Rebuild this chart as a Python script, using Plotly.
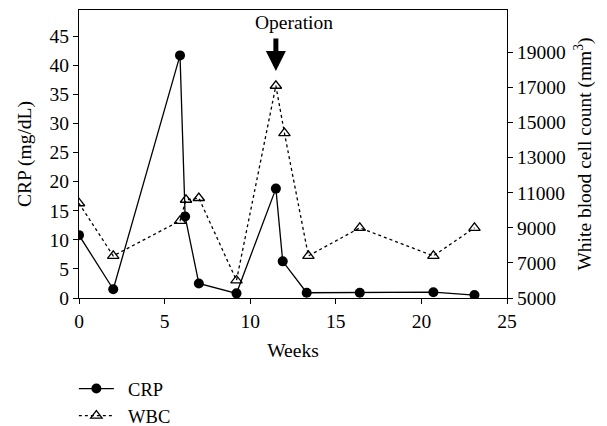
import plotly.graph_objects as go

weeks_crp = [0, 2, 5.9, 6.2, 7.0, 9.2, 11.5, 11.9, 13.3, 16.4, 20.7, 23.1]
crp = [10.8, 1.5, 41.7, 14.0, 2.5, 0.8, 18.8, 6.3, 0.9, 0.9, 1.0, 0.5]

weeks_wbc = [0, 2, 5.9, 6.25, 7.0, 9.2, 11.5, 12.0, 13.4, 16.4, 20.7, 23.1]
wbc = [10400, 7400, 9400, 10600, 10700, 6000, 17100, 14400, 7400, 9000, 7400, 9000]

x_ticks = [0, 5, 10, 15, 20, 25]
crp_ticks = [0, 5, 10, 15, 20, 25, 30, 35, 40, 45]
wbc_ticks = [5000, 7000, 9000, 11000, 13000, 15000, 17000, 19000]

FONT = "Liberation Serif"
NB = "\u00a0\u00a0"

fig = go.Figure()
fig.add_trace(go.Scatter(
    x=weeks_crp, y=crp, name=NB + "CRP", mode="lines+markers",
    line=dict(color="black", width=1.3),
    marker=dict(symbol="circle", size=10, color="black"),
    yaxis="y"))
fig.add_trace(go.Scatter(
    x=weeks_wbc, y=wbc, name=NB + "WBC", mode="lines+markers",
    line=dict(color="black", width=1.3, dash="dot"),
    marker=dict(symbol="triangle-up-open", size=10, color="black",
                line=dict(width=1.3, color="black")),
    yaxis="y2"))

axis_common = dict(showgrid=False, zeroline=False, showline=True,
                   linecolor="black", linewidth=1.2, ticks="outside",
                   ticklen=5, tickwidth=1.2, tickcolor="black",
                   tickfont=dict(family=FONT, size=19.5, color="black"))

# page body has an 8px default margin, so the figure is sized 8px smaller
fig.update_layout(
    width=599, height=418,
    margin=dict(l=71, r=100, t=2, b=128, autoexpand=False),
    paper_bgcolor="white", plot_bgcolor="white",
    font=dict(family=FONT, size=19.5, color="black"),
    xaxis=dict(range=[0, 25], tickvals=x_ticks, mirror=True,
               title=dict(text="Weeks", font=dict(family=FONT, size=19.5), standoff=12),
               **axis_common),
    yaxis=dict(range=[0, 49.5], tickvals=crp_ticks,
               title=dict(text="CRP (mg/dL)", font=dict(family=FONT, size=19.5), standoff=12),
               **axis_common),
    yaxis2=dict(range=[5000, 21417], tickvals=wbc_ticks,
                ticktext=[str(v) for v in wbc_ticks],
                overlaying="y", side="right",
                title=dict(text="White blood cell count (mm<sup>3</sup>)",
                           font=dict(family=FONT, size=19.5), standoff=12),
                **axis_common),
    showlegend=True,
    legend=dict(x=-0.012, y=-0.25, xanchor="left", yanchor="top",
                font=dict(family=FONT, size=18.5), bgcolor="rgba(0,0,0,0)",
                itemwidth=35, tracegroupgap=0),
    annotations=[
        dict(x=11.5, y=0.788, xref="x", yref="paper", text="", showarrow=True,
             ax=0, ay=-34, arrowhead=2, arrowwidth=5, arrowsize=0.8, arrowcolor="black"),
        dict(x=12.55, y=1.0, xref="x", yref="paper", text="Operation", showarrow=False,
             yanchor="top", yshift=0, font=dict(family=FONT, size=19.5)),
    ],
)

fig.write_html("out.html")
